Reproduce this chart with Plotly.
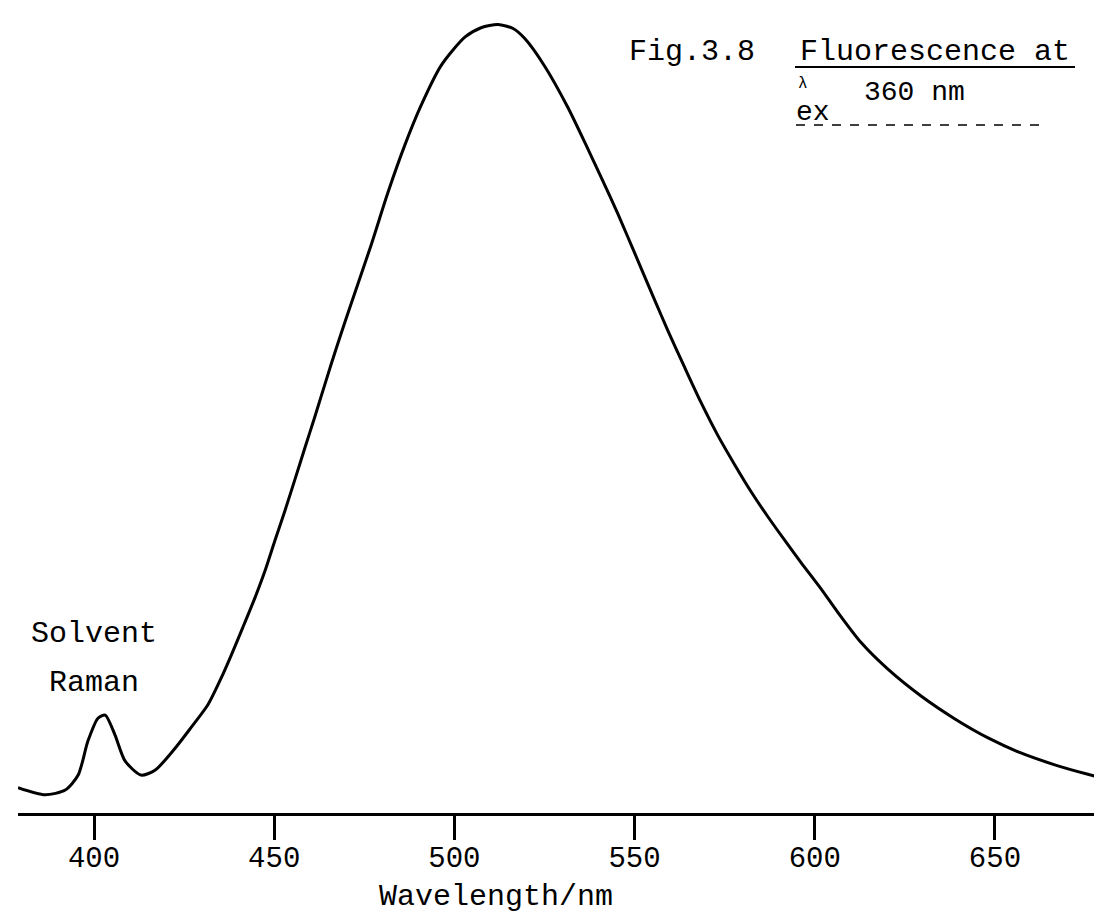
import plotly.graph_objects as go

# Emission spectrum (wavelength in nm, intensity in arbitrary units, peak ~100)
wavelength_nm = [378.9, 386.4, 392.0, 395.6, 398.3, 401.1, 403.1, 405.8, 408.6, 413.0,
                 416.9, 422.5, 426.9, 431.6, 435.2, 438.0, 441.3, 444.7, 447.4, 450.2,
                 453.0, 455.8, 458.5, 461.3, 463.0, 465.8, 468.5, 471.3, 476.9, 481.6,
                 486.3, 490.7, 496.3, 502.9, 507.4, 512.1, 516.3, 519.6, 525.1, 531.5,
                 537.1, 540.7, 545.4, 550.1, 555.7, 559.3, 564.0, 568.4, 573.1, 577.9,
                 582.3, 587.0, 591.7, 596.2, 601.7, 606.4, 612.8, 620.3, 629.5, 638.9,
                 648.1, 657.2, 666.6, 675.8, 681.1]
intensity = [3.2, 2.3, 2.9, 4.8, 9.1, 12.0, 12.4, 9.9, 6.6, 4.8,
             5.4, 8.2, 10.8, 13.7, 17.0, 19.9, 23.5, 27.3, 30.6, 34.5,
             38.3, 42.3, 46.2, 50.2, 52.7, 56.8, 60.6, 64.4, 71.9, 78.6,
             84.6, 89.5, 94.6, 98.2, 99.4, 99.8, 99.3, 98.0, 94.5, 89.3,
             84.0, 80.5, 75.8, 70.8, 64.8, 61.0, 56.3, 52.0, 47.8, 44.0,
             40.7, 37.5, 34.5, 31.7, 28.4, 25.4, 21.6, 18.2, 14.8, 11.9,
             9.5, 7.6, 6.1, 4.9, 4.3]

tick_values = [400, 450, 500, 550, 600, 650]
tick_labels = ["400", "450", "500", "550", "600", "650"]

W, H = 1102, 912
ML, MR, MT, MB = 10, 3, 5, 107
PW, PH = W - ML - MR, H - MT - MB


def px(x):
    return (x - ML) / PW


def py(y):
    return (H - MB - y) / PH


MONO = "Liberation Mono, Courier New, monospace"

fig = go.Figure()
fig.add_trace(go.Scatter(
    x=wavelength_nm, y=intensity, mode="lines",
    line=dict(color="black", width=3, shape="spline", smoothing=0.7),
    hoverinfo="skip", showlegend=False,
))

ann = [
    dict(text="Solvent", x=px(86), y=py(626), size=30),
    dict(text="Raman", x=px(86), y=py(675), size=30),
    dict(text="Wavelength/nm", x=px(488), y=py(889), size=30),
    dict(text="Fig.3.8", x=px(684), y=py(44), size=30),
    dict(text="Fluorescence at", x=px(927), y=py(44), size=30),
    dict(text="λ", x=px(795), y=py(76), size=16),
    dict(text="ex", x=px(805), y=py(104), size=28),
    dict(text="360 nm", x=px(906), y=py(84), size=28),
]
annotations = [
    dict(text=a["text"], x=a["x"], y=a["y"], xref="paper", yref="paper",
         showarrow=False, xanchor="center", yanchor="middle",
         font=dict(family=MONO, size=a["size"], color="black"))
    for a in ann
]

shapes = [
    dict(type="line", xref="paper", yref="paper", x0=px(787), x1=px(1067),
         y0=py(59), y1=py(59), line=dict(color="black", width=2)),
    dict(type="line", xref="paper", yref="paper", x0=px(788), x1=px(1035),
         y0=py(117), y1=py(117), line=dict(color="black", width=1.5, dash="dash")),
]

fig.update_layout(
    width=W, height=H,
    margin=dict(l=ML, r=MR, t=MT, b=MB),
    paper_bgcolor="white", plot_bgcolor="white",
    annotations=annotations, shapes=shapes,
    xaxis=dict(
        range=[378.9, 681.1], tickvals=tick_values, ticktext=tick_labels,
        ticks="outside", ticklen=24, tickwidth=2.5, tickcolor="black",
        showline=True, linecolor="black", linewidth=2.5,
        showgrid=False, zeroline=False,
        tickfont=dict(family=MONO, size=29, color="black"),
        ticklabelstandoff=-8,
    ),
    yaxis=dict(range=[0, PH / 7.9], visible=False, showgrid=False, zeroline=False),
)

fig.write_html("out.html")
